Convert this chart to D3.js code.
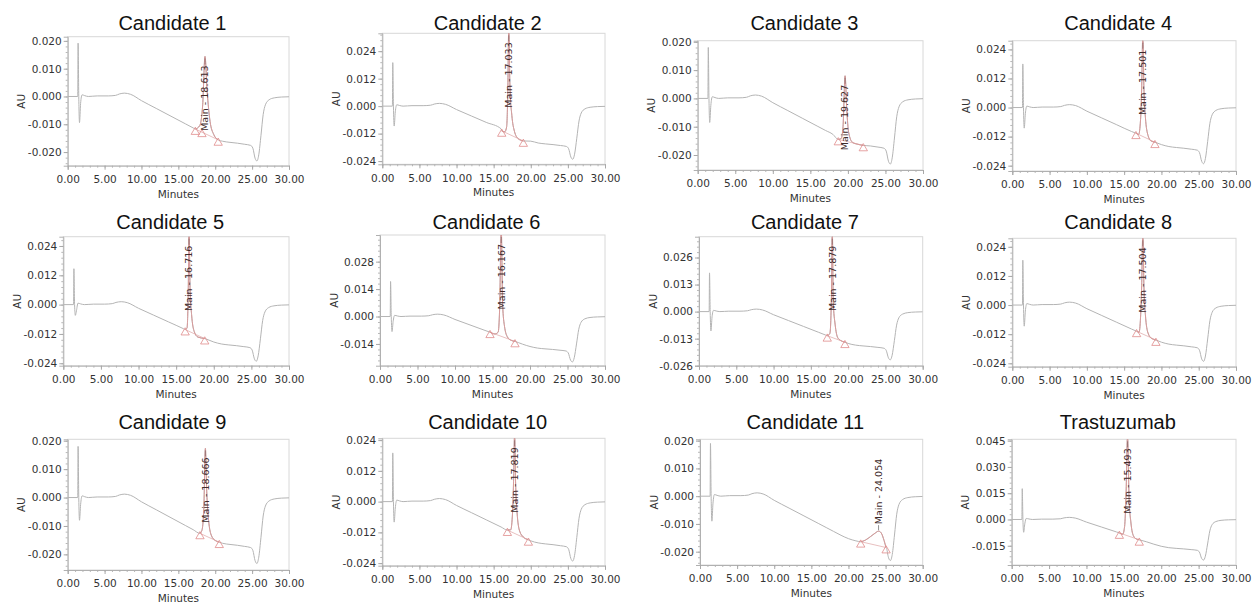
<!DOCTYPE html>
<html>
<head>
<meta charset="utf-8">
<script src="https://cdn.jsdelivr.net/npm/d3@7"></script>
<style>
  body { margin: 0; background: #fff; }
  svg { display: block; }
</style>
</head>
<body>
<div id="chart"></div>
<script>
// shared gradient trace (minutes, AU)
var baseTrace = [
  [0, 0], [1.36, 0],
  [1.75, -0.0025], [1.95, 0.0006], [2.3, 0.0003], [2.8, 0.0], [4, 0.0002], [5.5, 0.0002],
  [6.5, 0.0004], [7.0, 0.0009], [7.7, 0.0012], [8.5, 0.0008], [10, -0.0015], [12, -0.0043],
  [14, -0.0071], [16, -0.0099], [17, -0.0113], [18, -0.0127], [19, -0.0141], [20, -0.0153],
  [21, -0.0161], [22, -0.0165], [23, -0.0168], [24, -0.0172], [24.8, -0.0176], [25.1, -0.0186],
  [25.4, -0.0222], [25.65, -0.0232], [25.9, -0.021], [26.2, -0.014], [26.5, -0.0065],
  [26.8, -0.003], [27.3, -0.0012], [28, -0.0005], [29, -0.0002], [30, -0.0001]
];

var titles = ["Candidate 1", "Candidate 2", "Candidate 3", "Candidate 4",
              "Candidate 5", "Candidate 6", "Candidate 7", "Candidate 8",
              "Candidate 9", "Candidate 10", "Candidate 11", "Trastuzumab"];

// injection spike (top, dip) per panel
var spikeTops = [0.0192, 0.019, 0.018, 0.018, 0.0147, 0.0179, 0.0186, 0.0185, 0.018, 0.019, 0.019, 0.0176];
var spikeDips = [-0.0094, -0.0087, -0.0085, -0.0085, -0.0044, -0.0077, -0.0093, -0.0087, -0.008, -0.008, -0.009, -0.0073];

var peakTimes = ["18.613", "17.033", "19.627", "17.501", "16.716", "16.167",
                 "17.879", "17.504", "18.666", "17.819", "24.054", "15.493"];

// main peak, from start mark to end mark (minutes, AU)
var peakPoints = [
  [[17.3, -0.0117], [17.9, -0.0105], [18.3, -0.003], [18.613, 0.0144], [18.9, 0.002], [19.3, -0.009], [19.8, -0.0137], [20.4, -0.0156]],
  [[16.09, -0.0108], [16.5, -0.0112], [16.75, -0.009], [16.9, 0.005], [17.033, 0.034], [17.2, 0.008], [17.45, -0.004], [17.8, -0.011], [18.3, -0.0142], [19.0, -0.0152]],
  [[18.72, -0.0145], [19.1, -0.0142], [19.35, -0.010], [19.627, 0.008], [19.85, -0.004], [20.1, -0.012], [20.6, -0.0155], [21.3, -0.0162], [22.05, -0.0166]],
  [[16.58, -0.0106], [16.95, -0.0111], [17.2, -0.005], [17.35, 0.008], [17.501, 0.030], [17.65, 0.008], [17.85, -0.004], [18.2, -0.0115], [18.6, -0.0138], [19.13, -0.0143]],
  [[16.2, -0.0102], [16.45, -0.0095], [16.6, 0.004], [16.716, 0.030], [16.85, 0.006], [17.05, -0.004], [17.4, -0.011], [17.9, -0.0133], [18.8, -0.0139]],
  [[14.67, -0.0080], [15.3, -0.0089], [15.75, -0.008], [15.95, 0.004], [16.167, 0.045], [16.35, 0.006], [16.6, -0.005], [17.0, -0.0105], [17.5, -0.0122], [18.0, -0.0127]],
  [[17.2, -0.0116], [17.55, -0.0105], [17.75, 0.005], [17.879, 0.040], [18.0, 0.005], [18.25, -0.006], [18.6, -0.0125], [19.0, -0.0139], [19.57, -0.0147]],
  [[16.67, -0.0108], [17.0, -0.0112], [17.2, -0.005], [17.35, 0.008], [17.504, 0.030], [17.65, 0.008], [17.85, -0.004], [18.2, -0.0115], [18.7, -0.0138], [19.26, -0.0144]],
  [[17.93, -0.0126], [18.2, -0.0115], [18.45, -0.004], [18.666, 0.0173], [18.85, 0.002], [19.1, -0.008], [19.5, -0.0135], [20.0, -0.0151], [20.55, -0.0157]],
  [[16.85, -0.0111], [17.3, -0.011], [17.55, -0.004], [17.7, 0.010], [17.819, 0.027], [17.95, 0.008], [18.15, -0.004], [18.5, -0.0115], [19.0, -0.0138], [19.68, -0.0149]],
  [[21.65, -0.0164], [22.3, -0.0158], [23.0, -0.0145], [23.6, -0.0133], [24.054, -0.0126], [24.4, -0.0132], [24.8, -0.016], [25.07, -0.0185]],
  [[14.4, -0.0077], [14.85, -0.0084], [15.1, -0.004], [15.3, 0.015], [15.493, 0.048], [15.7, 0.012], [15.95, -0.002], [16.3, -0.0095], [16.7, -0.0112], [17.06, -0.0116]]
];

// extra integration marks inside a peak (candidate 1 only)
var extraMarks = [[[18.2, -0.0125]], [], [], [], [], [], [], [], [], [], [], []];

var yTicks = [
  [0.020, 0.010, 0, -0.010, -0.020],
  [0.024, 0.012, 0, -0.012, -0.024],
  [0.020, 0.010, 0, -0.010, -0.020],
  [0.024, 0.012, 0, -0.012, -0.024],
  [0.024, 0.012, 0, -0.012, -0.024],
  [0.028, 0.014, 0, -0.014],
  [0.026, 0.013, 0, -0.013, -0.026],
  [0.024, 0.012, 0, -0.012, -0.024],
  [0.020, 0.010, 0, -0.010, -0.020],
  [0.024, 0.012, 0, -0.012, -0.024],
  [0.020, 0.010, 0, -0.010, -0.020],
  [0.045, 0.030, 0.015, 0, -0.015]
];
var yDomains = [
  [-0.0249, 0.0215], [-0.0254, 0.0318], [-0.0253, 0.0204], [-0.0262, 0.0276],
  [-0.025, 0.0278], [-0.0251, 0.0416], [-0.026, 0.036], [-0.0254, 0.0275],
  [-0.0255, 0.0205], [-0.025, 0.0247], [-0.0248, 0.0205], [-0.026, 0.0458]
];
var xTicks = [0, 5, 10, 15, 20, 25, 30];

// plot boxes [left, top, right, bottom] in page pixels
var boxes = [
  [67.7, 36.7, 289, 165.7], [382.3, 33.3, 605, 164.3], [697.7, 40.7, 923, 170], [1012.3, 40.7, 1236, 171],
  [63.3, 236.7, 289, 365.7], [380, 235, 605, 365.7], [699, 236.7, 922.7, 365.7], [1012.3, 238.3, 1236, 366.7],
  [67.7, 439.3, 289, 570], [382.3, 438.3, 605, 565.7], [700, 439.3, 922.7, 565], [1011.7, 439.3, 1236, 565]
];
var titleBase = [30, 229, 429];

var W = 1252, H = 605;
var fmt3 = d3.formatLocale({decimal: ".", thousands: ",", grouping: [3], currency: ["", ""], minus: "-"}).format(".3f");

var svg = d3.select("#chart").append("svg")
  .attr("width", W).attr("height", H)
  .style("font-family", "'DejaVu Sans', sans-serif");

svg.append("rect").attr("width", W).attr("height", H).attr("fill", "#fff");

titles.forEach(function(title, i) {
  var b = boxes[i];
  var x = d3.scaleLinear().domain([0, 30]).range([b[0], b[2]]);
  var y = d3.scaleLinear().domain(yDomains[i]).range([b[3], b[1]]);
  var g = svg.append("g");

  // frame
  g.append("rect")
    .attr("x", b[0]).attr("y", b[1])
    .attr("width", b[2] - b[0]).attr("height", b[3] - b[1])
    .attr("fill", "none").attr("stroke", "#d8d8d8").attr("stroke-width", 1);

  // minor ticks
  var yStep = (yTicks[i][0] - yTicks[i][1]) / 5;
  var yMinor = d3.range(Math.ceil(yDomains[i][0] / yStep), Math.floor(yDomains[i][1] / yStep) + 1)
    .map(function(k) { return k * yStep; });
  g.append("g").attr("transform", "translate(" + b[0] + ",0)")
    .call(d3.axisLeft(y).tickValues(yMinor).tickSize(2).tickFormat(""))
    .call(function(a) { a.select(".domain").remove(); a.selectAll("line").attr("stroke", "#b8b8b8"); });
  g.append("g").attr("transform", "translate(0," + b[3] + ")")
    .call(d3.axisBottom(x).tickValues(d3.range(0, 31, 1)).tickSize(2).tickFormat(""))
    .call(function(a) { a.select(".domain").remove(); a.selectAll("line").attr("stroke", "#b8b8b8"); });

  // major axes
  var ya = g.append("g").attr("transform", "translate(" + b[0] + ",0)")
    .call(d3.axisLeft(y).tickValues(yTicks[i]).tickSize(4).tickPadding(2).tickFormat(fmt3));
  var xa = g.append("g").attr("transform", "translate(0," + b[3] + ")")
    .call(d3.axisBottom(x).tickValues(xTicks).tickSize(4).tickPadding(6).tickFormat(d3.format(".2f")));
  [ya, xa].forEach(function(a) {
    a.select(".domain").attr("stroke", "#b0b0b0");
    a.selectAll("line").attr("stroke", "#a8a8a8");
    a.selectAll("text").attr("fill", "#333").style("font-size", "10.5px")
      .style("font-family", "'DejaVu Sans', sans-serif");
  });

  // axis titles
  g.append("text")
    .attr("transform", "translate(" + (b[0] - 46) + "," + ((b[1] + b[3]) / 2) + ") rotate(-90)")
    .attr("text-anchor", "middle").attr("dy", "0.35em")
    .style("font-size", "10.5px").attr("fill", "#333").text("AU");
  g.append("text")
    .attr("x", (b[0] + b[2]) / 2).attr("y", b[3] + 32)
    .attr("text-anchor", "middle")
    .style("font-size", "10.5px").attr("fill", "#333").text("Minutes");

  // panel title
  g.append("text")
    .attr("x", (b[0] + b[2]) / 2 - 6).attr("y", titleBase[Math.floor(i / 4)])
    .attr("text-anchor", "middle")
    .style("font-family", "'Liberation Sans', Arial, sans-serif")
    .style("font-size", "20px").attr("fill", "#111").text(title);

  // trace
  var pk = peakPoints[i];
  var t0 = pk[0][0], t1 = pk[pk.length - 1][0];
  var spike = [[1.41, spikeTops[i]], [1.5, 0.0], [1.6, spikeDips[i]]];
  var trace = baseTrace.filter(function(d) { return d[0] < t0 || d[0] > t1; })
    .concat(spike).concat(pk)
    .sort(function(a, c) { return a[0] - c[0]; });

  var clipId = "clip" + i;
  g.append("clipPath").attr("id", clipId).append("rect")
    .attr("x", b[0]).attr("y", b[1]).attr("width", b[2] - b[0]).attr("height", b[3] - b[1]);
  var plot = g.append("g").attr("clip-path", "url(#" + clipId + ")");

  var line = d3.line().x(function(d) { return x(d[0]); }).y(function(d) { return y(d[1]); })
    .curve(d3.curveMonotoneX);

  plot.append("path").datum(trace).attr("d", line)
    .attr("fill", "none").attr("stroke", "#b4b4b4").attr("stroke-width", 1);

  // integration baseline and peak
  plot.append("path").datum([pk[0], pk[pk.length - 1]]).attr("d", d3.line().x(function(d) { return x(d[0]); }).y(function(d) { return y(d[1]); }))
    .attr("fill", "none").attr("stroke", "#e2b0b0").attr("stroke-width", 0.8);
  plot.append("path").datum(pk).attr("d", line)
    .attr("fill", "none").attr("stroke", "#d99a9a").attr("stroke-width", 1);

  var marks = [pk[0], pk[pk.length - 1]].concat(extraMarks[i]);
  plot.selectAll("path.mark").data(marks).enter().append("path")
    .attr("class", "mark")
    .attr("d", d3.symbol(d3.symbolTriangle, 30))
    .attr("transform", function(d) { return "translate(" + x(d[0]) + "," + (y(d[1]) + 3) + ")"; })
    .attr("fill", "none").attr("stroke", "#e08c8c").attr("stroke-width", 0.8);

  // peak label
  var apex = pk.reduce(function(m, d) { return d[1] > m[1] ? d : m; }, pk[0]);
  var ax = x(apex[0]), ay = y(apex[1]);
  var lab = g.append("text")
    .attr("dy", "0.35em")
    .style("font-size", "9.5px").attr("fill", "#3e2a2a")
    .text("Main - " + peakTimes[i]);
  var len = lab.node().getComputedTextLength();
  if (ay - b[1] > len + 20) {
    lab.attr("text-anchor", "start")
      .attr("transform", "translate(" + ax + "," + (ay - 7) + ") rotate(-90)");
    g.append("line").attr("x1", ax).attr("x2", ax).attr("y1", ay - 1).attr("y2", ay - 6)
      .attr("stroke", "#777").attr("stroke-width", 0.8);
  } else {
    var top = Math.max(ay, b[1]);
    lab.attr("text-anchor", "end")
      .attr("transform", "translate(" + ax + "," + (top + 9) + ") rotate(-90)");
    g.append("line").attr("x1", ax).attr("x2", ax).attr("y1", top + 2).attr("y2", top + 8)
      .attr("stroke", "#8a6a6a").attr("stroke-width", 0.8);
  }
});
</script>
</body>
</html>
